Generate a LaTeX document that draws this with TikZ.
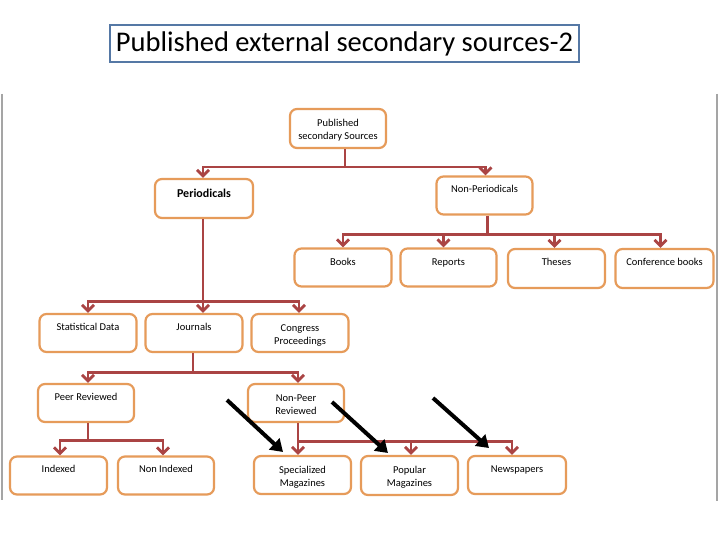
\documentclass[tikz,border=0pt]{standalone}
\usepackage{fontspec}
\setmainfont{Carlito}
\usetikzlibrary{arrows.meta}
\definecolor{boxor}{RGB}{230,155,90}
\definecolor{connred}{RGB}{170,68,68}
\definecolor{titleblue}{RGB}{85,120,165}
\definecolor{sidegray}{RGB}{165,165,165}
\newcommand{\bxt}[4]{\parbox[c][#2pt][t]{#1pt}{\centering\rule{0pt}{#3pt}#4\par}}
\begin{document}
\begin{tikzpicture}[x=1pt,y=-1pt,
 box/.style={draw=boxor, line width=2.2pt, rounded corners=7pt, fill=white, inner sep=0pt, font=\fontsize{10.5}{12.5}\selectfont},
 busline/.style={draw=connred, line width=2.8pt},
 conn/.style={busline, -{Straight Barb[length=6pt,width=12pt]}},
 bigarrow/.style={draw=black, line width=4pt, -{Triangle[length=12pt,width=15pt]}},
 sideline/.style={draw=sidegray, line width=2pt},
 titlebox/.style={draw=titleblue, line width=2pt, fill=white, inner sep=0pt, minimum width=469pt, minimum height=37pt, font=\fontsize{28.5}{30}\selectfont}]
\useasboundingbox[fill=white] (0,0) rectangle (720,540);

\node[titlebox] (title) at (344.5,43.5) {Published external secondary sources-2};

\coordinate (l1) at (2,94); \coordinate (l2) at (2,500);
\coordinate (r1) at (717,94); \coordinate (r2) at (717,501);
\draw[sideline] (l1) -- (l2);
\draw[sideline] (r1) -- (r2);

\node[box] (root) at (338,128.5) {\bxt{96}{39}{18}{Published\\secondary Sources}};
\node[box] (per) at (204,198.5) {\bxt{98}{39}{19}{\fontsize{12}{14}\selectfont\bfseries Periodicals}};
\node[box] (nonper) at (484.5,195.5) {\bxt{96}{38}{16.5}{Non-Periodicals}};
\node[box] (books) at (343,267.5) {\bxt{97}{38}{16.5}{Books}};
\node[box] (reports) at (448.5,267.5) {\bxt{96}{38}{16.5}{Reports}};
\node[box] (theses) at (556.5,268.5) {\bxt{97}{39}{16.5}{Theses}};
\node[box] (conf) at (664.5,268.5) {\bxt{98}{39}{16.5}{Conference books}};
\node[box] (stat) at (88,333) {\bxt{97}{38}{16}{Statistical Data}};
\node[box] (jour) at (194,333) {\bxt{97}{38}{16}{Journals}};
\node[box] (cong) at (300,333) {\bxt{97}{38}{17.5}{Congress\\Proceedings}};
\node[box] (peer) at (86,403) {\bxt{96}{38}{16.5}{Peer Reviewed}};
\node[box] (npeer) at (296,403) {\bxt{96}{38}{17.5}{Non-Peer\\Reviewed}};
\node[box] (idx) at (58.5,475.5) {\bxt{97}{38}{16}{Indexed}};
\node[box] (nidx) at (166,475.5) {\bxt{96}{38}{16}{Non Indexed}};
\node[box] (spec) at (302.5,475) {\bxt{97}{38}{17.5}{Specialized\\Magazines}};
\node[box] (pop) at (409.5,475.5) {\bxt{97}{39}{17.5}{Popular\\Magazines}};
\node[box] (news) at (517,475) {\bxt{98}{38}{16.5}{Newspapers}};

% root -> periodicals / non-periodicals
\draw[busline] ([xshift=7pt]root.south) -- ++(0,18) coordinate (b1);
\draw[conn] (b1) -| ([xshift=-1pt]per.north);
\draw[conn] (b1) -| ([xshift=1pt]nonper.north);
% non-periodicals
\draw[busline] ([xshift=3pt]nonper.south) -- ++(0,19) coordinate (b2);
\draw[conn] (b2) -| (books.north);
\draw[conn] (b2) -| ([xshift=-5pt]reports.north);
\draw[conn] (b2) -| ([xshift=-2pt]theses.north);
\draw[conn] (b2) -| ([xshift=-4pt]conf.north);
% periodicals
\draw[busline] ([xshift=-1pt]per.south) -- ++(0,82) coordinate (b3);
\draw[conn] (b3) -| (stat.north);
\draw[conn] (b3) -| ([xshift=9pt]jour.north);
\draw[conn] (b3) -| ([xshift=-1pt]cong.north);
% journals
\draw[busline] ([xshift=-1pt]jour.south) -- ++(0,19) coordinate (b4);
\draw[conn] (b4) -| ([xshift=2pt]peer.north);
\draw[conn] (b4) -| ([xshift=2pt]npeer.north);
% peer reviewed
\draw[busline] ([xshift=2pt]peer.south) -- ++(0,17) coordinate (b5);
\draw[conn] (b5) -| ([xshift=1.5pt]idx.north);
\draw[conn] (b5) -| ([xshift=-3pt]nidx.north);
% non-peer reviewed
\draw[busline] ([xshift=2pt]npeer.south) -- ++(0,18) coordinate (b6);
\draw[conn] (b6) -| ([xshift=-4.5pt]spec.north);
\draw[conn] (b6) -| ([xshift=1.5pt]pop.north);
\draw[conn] (b6) -| ([xshift=-5pt]news.north);

% black pointer arrows
\coordinate (k1s) at (227,400); \coordinate (k1e) at (283,452);
\coordinate (k2s) at (332,402); \coordinate (k2e) at (388,453);
\coordinate (k3s) at (433,398); \coordinate (k3e) at (489,448);
\draw[bigarrow] (k1s) -- (k1e);
\draw[bigarrow] (k2s) -- (k2e);
\draw[bigarrow] (k3s) -- (k3e);
\end{tikzpicture}
\end{document}
